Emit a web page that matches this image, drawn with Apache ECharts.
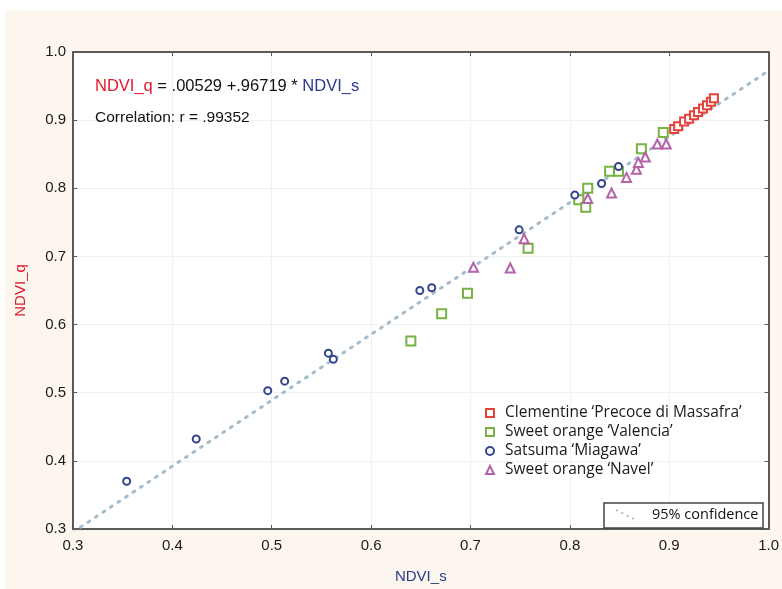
<!DOCTYPE html>
<html>
<head>
<meta charset="utf-8">
<script src="https://cdn.jsdelivr.net/npm/echarts@6/dist/echarts.min.js"></script>
<style>
html,body{margin:0;padding:0;background:#ffffff;}
#c{width:782px;height:589px;}
</style>
</head>
<body>
<div id="c"></div>
<script>
// ---- data ----
const xTicks = [0.3, 0.4, 0.5, 0.6, 0.7, 0.8, 0.9, 1.0];
const yTicks = [0.3, 0.4, 0.5, 0.6, 0.7, 0.8, 0.9, 1.0];
const seriesNames = ["Clementine \u2018Precoce di Massafra\u2019", "Sweet orange \u2018Valencia\u2019", "Satsuma \u2018Miagawa\u2019", "Sweet orange \u2018Navel\u2019"];
const clementine = [[0.905,0.887],[0.909,0.891],[0.915,0.898],[0.920,0.902],[0.925,0.907],[0.929,0.912],[0.934,0.917],[0.938,0.922],[0.942,0.927],[0.945,0.932]];
const valencia = [[0.640,0.576],[0.671,0.616],[0.697,0.646],[0.758,0.712],[0.809,0.783],[0.816,0.772],[0.818,0.800],[0.840,0.825],[0.849,0.825],[0.872,0.858],[0.894,0.882]];
const satsuma = [[0.354,0.370],[0.424,0.432],[0.496,0.503],[0.513,0.517],[0.557,0.558],[0.562,0.549],[0.649,0.650],[0.661,0.654],[0.749,0.739],[0.805,0.790],[0.832,0.807],[0.849,0.832]];
const navel = [[0.703,0.684],[0.740,0.683],[0.754,0.726],[0.818,0.785],[0.842,0.793],[0.857,0.816],[0.867,0.828],[0.869,0.838],[0.876,0.846],[0.888,0.865],[0.897,0.865]];
const regIntercept = 0.00529;
const regSlope = 0.96719;
const correlation = ".99352";

const colors = ["#e4433b", "#77b243", "#34458e", "#b262a8"];
const symbols = ["rect", "rect", "circle", "triangle"];
const sizes = [8, 9, 7, 9];

const regLine = [0.3, 1.0].map(x => [x, regIntercept + regSlope * x]);

const chart = echarts.init(document.getElementById('c'), null, {renderer: 'canvas'});
const font = "Liberation Sans, Arial, sans-serif";

function scatter(i, data) {
  return {
    name: seriesNames[i], type: 'scatter', data: data,
    symbol: symbols[i], symbolSize: sizes[i],
    itemStyle: {color: '#ffffff', borderColor: colors[i], borderWidth: 2, opacity: 1},
    z: 5
  };
}

const option = {
  animation: false,
  backgroundColor: 'transparent',
  grid: {left: 73, top: 52, right: 12, bottom: 54, show: true, backgroundColor: '#ffffff', borderWidth: 0},
  xAxis: [{
    type: 'value', min: 0.3, max: 1.0, interval: 0.1,
    name: 'NDVI_s', nameLocation: 'middle', nameGap: 40,
    nameTextStyle: {color: '#2a3a8f', fontSize: 15, fontFamily: font},
    axisLine: {show: true, lineStyle: {color: '#5a5a5a', width: 2}},
    axisTick: {show: true, inside: true, length: 4, lineStyle: {color: '#5a5a5a'}},
    axisLabel: {color: '#1a1a1a', fontSize: 15, fontFamily: font, margin: 9, formatter: v => v.toFixed(1)},
    splitLine: {show: true, lineStyle: {color: '#f1f1f1', width: 1}}
  }, {
    type: 'value', position: 'top', min: 0.3, max: 1.0, interval: 0.1,
    axisLine: {show: true, lineStyle: {color: '#5a5a5a', width: 2}},
    axisTick: {show: true, inside: true, length: 4, lineStyle: {color: '#5a5a5a'}},
    axisLabel: {show: false}, splitLine: {show: false}
  }],
  yAxis: [{
    type: 'value', min: 0.3, max: 1.0, interval: 0.1,
    name: 'NDVI_q', nameLocation: 'middle', nameGap: 45, nameRotate: 90,
    nameTextStyle: {color: '#e0162b', fontSize: 15, fontFamily: font},
    axisLine: {show: true, lineStyle: {color: '#5a5a5a', width: 2}},
    axisTick: {show: true, inside: true, length: 4, lineStyle: {color: '#5a5a5a'}},
    axisLabel: {color: '#1a1a1a', fontSize: 15, fontFamily: font, margin: 7, formatter: v => v.toFixed(1)},
    splitLine: {show: true, lineStyle: {color: '#f1f1f1', width: 1}}
  }, {
    type: 'value', position: 'right', min: 0.3, max: 1.0, interval: 0.1,
    axisLine: {show: true, lineStyle: {color: '#5a5a5a', width: 2}},
    axisTick: {show: true, inside: true, length: 4, lineStyle: {color: '#5a5a5a'}},
    axisLabel: {show: false}, splitLine: {show: false}
  }],
  legend: {
    show: true, orient: 'vertical', left: 480, top: 400,
    itemWidth: 8, itemHeight: 8, itemGap: 3,
    data: seriesNames.map((n, i) => ({name: n, icon: symbols[i]})),
    textStyle: {color: '#1a1a1a', fontSize: 15.5, fontFamily: 'Open Sans, sans-serif', padding: [0, 0, 0, 6]}
  },
  series: [
    {
      name: 'reg', type: 'line', data: regLine, symbol: 'none', silent: true,
      lineStyle: {color: '#a7bccb', width: 3, type: [2, 7], cap: 'round'}, z: 2,
      clip: true
    },
    scatter(0, clementine),
    scatter(1, valencia),
    scatter(2, satsuma),
    scatter(3, navel)
  ],
  graphic: [
    {type: 'rect', shape: {x: 5, y: 10, width: 777, height: 579}, style: {fill: '#fcf6ee'}, z: -100, silent: true},
    {type: 'text', left: 95, top: 78, z: 10, style: {
      text: '{r|NDVI_q} = .00529 +.96719 * {b|NDVI_s}',
      fill: '#111', fontSize: 16.5, fontFamily: font,
      rich: {r: {fill: '#e0162b', fontSize: 16.5, fontFamily: font}, b: {fill: '#2a3a8f', fontSize: 16.5, fontFamily: font}}
    }},
    {type: 'text', left: 95, top: 110, z: 10, style: {text: 'Correlation: r = ' + correlation, fill: '#111', fontSize: 15.5, fontFamily: font}},
    {type: 'rect', shape: {x: 604, y: 503, width: 159, height: 25}, style: {fill: '#ffffff', stroke: '#444', lineWidth: 1.5}, z: 10},
    {type: 'line', shape: {x1: 616, y1: 510, x2: 636, y2: 520}, style: {stroke: '#a7bccb', lineWidth: 2, lineDash: [2, 4]}, z: 11},
    {type: 'text', left: 652, top: 507, z: 11, style: {text: '95% confidence', fill: '#111', fontSize: 14.5, fontFamily: 'Open Sans, sans-serif'}}
  ]
};
chart.setOption(option);
</script>
</body>
</html>
